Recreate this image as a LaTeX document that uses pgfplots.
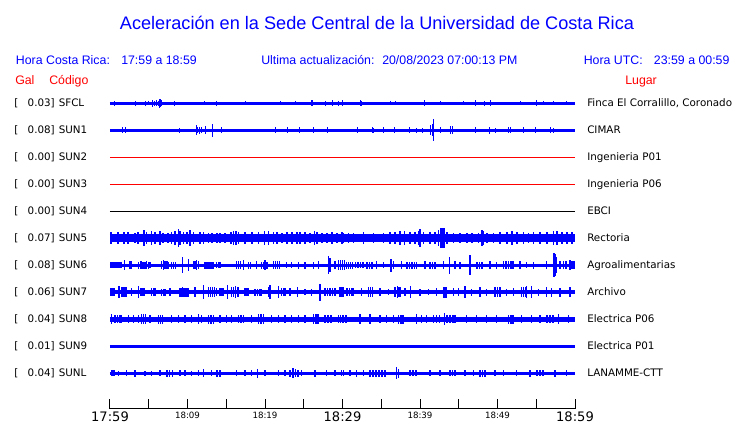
\documentclass[border=0pt]{standalone}
\usepackage{pgfplots}
\pgfplotsset{compat=1.18}
\usepackage{pgfplotstable}
\usepackage{fontspec}
\setmainfont{DejaVu Sans}
\newfontfamily\arial{Liberation Sans}
\definecolor{sblue}{RGB}{0,0,255}
\definecolor{sred}{RGB}{255,0,0}

% spike tables: x position (px), half amplitude (px)
\pgfplotstableread{
x a
115 2.5
136 2.5
146 2.5
148.5 2
152.5 3.5
154.5 2.5
156.5 3
158.5 2.5
160 4.5
161 4
162 3
174.5 2.5
204.5 2
216.5 2.5
245 2
280 2
295 2
311 3
312 3
325 2.5
332.5 3
338.5 2.5
342.5 3
360 3
361 2.5
390 2
395 2
424 3
440 2
463.5 2
475 3
484 2.5
490 3
520 2
536.5 3
543.5 2
553.5 2
566.5 2
}\tSFCL
\pgfplotstableread{
x a
122.5 3
126 3
179 2.5
196 5
197.5 3
199.5 3.5
201 3
205 4
212.5 6.5
221 3
275 3
287.5 3
299.5 3
313.5 3
327.5 3
357.5 3
372.5 3
373.5 2.5
383.5 3
394.5 3
409.5 3
416 2.5
422.5 2.5
430.5 5
432 6
433.5 11
440 3
450 4
452 4
475.5 3
489 3.5
495.5 2.5
508.5 3
510.5 3
523.5 3
535 3
550.5 3
553.5 2.5
}\tSUNa
\pgfplotstableread{
x a
110.5 6
111.7 6
118.3 6
124.3 6
128.3 6
135 5
138.3 6
144.3 8
146.7 6
151.7 7
155 6
160 7
163.3 5
168.3 5
171.7 6
175 7
178.3 9
180 7
183.3 6
186.7 6
190 8
193.3 6
200 6
203.3 6
208.3 5
211.7 5
216.7 5
220 5
225 5
231 6
233.3 7
235.7 7
238.3 6
245 6
251.7 6
258.3 6
264.3 7
268.3 7
273.3 6
276.7 6
281.7 5
286.7 6
291.7 6
296.7 6
300 6
305 6
310 5
314.3 7
316.7 6
321.7 5
326.7 5
331.7 6
336.7 5
341.7 6
343.3 5
348.3 5
353.3 5
363.3 6
373.3 5
383.3 5
390 6
395 6
400 7
404.3 7
410 6
415 6
418.3 7
420 9
423.3 6
430 6
435 6
438.3 8
440.7 10
442.7 10
444.3 10
446.7 6
453.3 5
460 5
466.7 5
471.7 5
478.3 5
481.7 8
483.3 7
486.7 5
493.3 5
500 6
506.7 6
511.7 7
516.7 6
523.3 6
528.3 5
533.3 6
540 6
546.7 6
553.3 7
556.7 7
561.7 6
566.7 6
571.7 6
}\tSUNe
\pgfplotstableread{
x a
110.5 3
112 3
114 3
116 3
118 3
120 3
121.5 3
124.3 5
130 4
131.5 4
138.5 3.5
140.5 3.5
141 4
143 3.5
145 3.5
146.7 4
148.5 3.5
150 3
161.5 4
163.3 5
165 4
167 4
168.5 3.5
171.5 3.5
173.5 3.5
175.5 3.5
182.3 8
188.3 6
193.5 4
195 4
196.7 5
198.5 4
205 3.5
207 3.5
209 3.5
211 3.5
213 3.5
216.5 3
218.5 3
220 3
236.5 4
238.5 4
240.5 4
243.3 5
248.5 3.5
250.5 3.5
256.7 4
261.5 3.5
263.3 3.5
265 5
267 3.5
273.5 4
275.5 4
277.5 4
279.5 4
286.7 3
291.7 3
298.3 3.5
305 3.5
313.3 3.5
318.3 4
328.3 9
330 7
335 4
338.5 5
340.5 5
342.5 5
344.5 5
346.5 3.5
348.5 3.5
350.5 3.5
352.5 3.5
355.5 3
358 3
360.5 3
363 3
367 3.5
369.5 3.5
372 3.5
376.7 4
383.3 3
391 6.5
393.3 4
401.7 4
407 3.5
409.5 3.5
412 3.5
414.5 3.5
416.5 3.5
425 4
430 3.5
432.5 3.5
435 3.5
443.3 4
449.3 8.5
455 4
460 3.5
470 10
477 3.5
479.5 3.5
482 3.5
490 4
496.7 3.5
503.5 4
506 4
508.5 4
511 4
513 4
520 4
526.7 3
533.3 3.5
546.7 4
553.5 12
554.5 12
555.5 11
556.5 8
560 4
563.5 4
566 4
570 5
572 4
574 4
}\tSUNf
\pgfplotstableread{
x a
110.5 4
112 4
114 4
119 6
122 5
124 5
126 5
131.7 4
138.3 6
141 4
143 4
144.5 4
151.5 4
153.5 4
155 4
161.5 3.5
163.5 3.5
165 3.5
170 4
180 4.5
182 4.5
182.3 5
184 4.5
186 4.5
188 4.5
195 5
203.3 7
208.5 5
210.5 5
212.5 5
214.5 5
216.7 4
220 4
222 4
223.5 4
227.3 7
231.5 5
233.5 5
235.7 6
238 5
245 4
247 4
248.5 4
255 3.5
257.5 3.5
260 3.5
261.5 3.5
268.3 5
270 7
278.3 6
281.5 4
283.5 4
285 4
290 4
297.7 5
305 3
311.7 3.5
320 8.5
325 4
327.5 4
330 4
332.5 4
335 4
340 5
342 5
343.5 5
347 4
349.5 4
352 4
353.5 4
361.7 4
368.5 5
370.5 5
372.5 5
380 4
388.3 3
395 5
397.3 6
399 5
400.5 5
405 4
410.7 6
420 3.5
428.3 3
436.7 4
443.5 5.5
445 5.5
446.5 5.5
453.3 4
458.3 4
465 6
471.7 3.5
480 5
486.7 3.5
495 5
497.5 5
500 5
506.7 3.5
513.3 4
521.5 5
523.5 5
525.5 5
526.7 6
531.7 6
538.3 3.5
546.7 5
551.7 4.5
560 4.5
570 5
}\tSUNg
\pgfplotstableread{
x a
111.7 5
115 4
117.5 4
120 4
121.5 4
128.3 4
133.3 4
138.3 4
141.5 5
143.5 5
145.5 5
150 4
158.5 4.5
160.5 4.5
162.5 4.5
171.7 4
178.3 4
185 4
191.7 4
198.3 5
201.7 4
208.5 4.5
211 4.5
213.5 4.5
220 4
226.7 4
231.7 4
238.5 4
241 4
243.5 4
251.7 4
258.5 5
261 5
263.5 5
271.7 4
278.3 4
285 4
291.7 4
298.3 4
305 4
313.5 5
316 5
318 5
325 4
328 4
331 4
338.3 4
340.5 4
343 4
346 4
360 5
370 5
380 4
386.7 4
393.3 4
398.5 4.5
401 4.5
403 4.5
416.7 5
421.7 4
426.7 4
433.5 4
436.5 4
439.5 4
444.3 6
447 4
450 4
453 4
455 4
466.7 4
476.7 4
486.7 4
496.7 4
508.5 4.5
511 4.5
513 4.5
521.7 4
531.7 4
540 4
547 4
550 4
553 4
558.3 5
568.3 4
}\tSUNh
\pgfplotstableread{
x a
112 3
114 3
118.3 2.5
126.7 3
135 3.5
145 2.5
151.7 2.5
160 3
167 3.5
169.5 3.5
172.5 3.5
180 3
185 3
191.7 2.5
198.3 3
203.3 4
211.7 3
217 3.5
220 3.5
236.7 3
245 3
251.7 3
257.7 4.5
265 3
278.3 3
285 3
290 3.5
293 5
295.5 4
298 3.5
301.7 3
315 3.5
326.7 3
335 3
341.7 3
343.3 3
350 3
356.7 3.5
363.3 3
370 3.5
373 3.5
376 3.5
379 3.5
382 3.5
385 3.5
396.7 6
398.3 4.5
410 3
413 3
416 3
430 3
440 3
450 3
452.5 3
455 3
465 3
473.3 3
480 3.5
482.5 3.5
485 3.5
495 3
503.3 3
516.7 3
530 3.5
537 3
540 3
543 3
555 3.5
566.7 3
}\tSUNL

\newcommand{\band}[3]{\addplot[#3, line width=#2] coordinates {(110,-#1) (575,-#1)};}
\newcommand{\spikes}[3]{\addplot[draw=none, error bars/.cd, y dir=both, y explicit,
  error mark=none, error bar style={sblue, line width=#3}] table[x=x, y expr=-#2, y error=a] {#1};}

\begin{document}
\begin{tikzpicture}
\useasboundingbox (0,0) rectangle (555pt,317.25pt);
\begin{axis}[
  at={(82.5pt,10.5pt)}, anchor=south west,
  scale only axis, width=348.75pt, height=239.25pt,
  xmin=110, xmax=575, ymin=-409, ymax=-90,
  clip=false,
  axis x line*=bottom, axis y line=none,
  x axis line style={-, black, line width=0.75pt},
  xtick={110,148.75,187.5,226.25,265,303.75,342.5,381.25,420,458.75,497.5,536.25,575},
  xticklabels={{\fontsize{9.8}{10}\selectfont 17:59},{},{\fontsize{6.5}{7}\selectfont 18:09},{},{\fontsize{6.5}{7}\selectfont 18:19},{},{\fontsize{9.8}{10}\selectfont 18:29},{},{\fontsize{6.5}{7}\selectfont 18:39},{},{\fontsize{6.5}{7}\selectfont 18:49},{},{\fontsize{9.8}{10}\selectfont 18:59}},
  xticklabel style={anchor=north, inner sep=0pt, yshift=-2pt},
  xtick align=inside, major tick length=7.2pt,
  xtick style={black, line width=0.75pt},
  ytick=\empty,
]
% SFCL
\band{103.3}{2.25pt}{sblue}
\spikes{\tSFCL}{103.3}{0.75pt}
% SUN1
\band{130.3}{2.25pt}{sblue}
\spikes{\tSUNa}{130.3}{0.75pt}
% SUN2, SUN3, SUN4
\band{157.3}{0.75pt}{sred}
\band{184.3}{0.75pt}{sred}
\band{211.3}{0.75pt}{black}
% SUN5
\band{238.3}{6pt}{sblue}
\spikes{\tSUNe}{238.3}{1.2pt}
% SUN6
\band{265.3}{2.25pt}{sblue}
\spikes{\tSUNf}{265.3}{1pt}
% SUN7
\band{292.3}{3pt}{sblue}
\spikes{\tSUNg}{292.3}{1.1pt}
% SUN8
\band{319.3}{4pt}{sblue}
\spikes{\tSUNh}{319.3}{1.1pt}
% SUN9
\band{346.3}{2.1pt}{sblue}
% SUNL
\band{373.3}{2.4pt}{sblue}
\spikes{\tSUNL}{373.3}{1pt}
\end{axis}

\begin{scope}[x=0.75pt, y=-0.75pt, yshift=317.25pt]
% title and header
\node[anchor=base, inner sep=0pt, text=sblue, font=\arial\fontsize{13.6}{16}\selectfont] at (377,30) {Aceleración en la Sede Central de la Universidad de Costa Rica};
\begin{scope}[every node/.style={anchor=base west, inner sep=0pt, text=sblue, font=\arial\fontsize{9.26}{11}\selectfont}]
\node at (15.7,65) {Hora Costa Rica:};
\node at (121,65) {17:59 a 18:59};
\node at (261,65) {Ultima actualización:};
\node at (382,65) {20/08/2023 07:00:13 PM};
\node at (583.5,65) {Hora UTC:};
\node at (653.7,65) {23:59 a 00:59};
\end{scope}
\begin{scope}[every node/.style={anchor=base west, inner sep=0pt, text=sred, font=\arial\fontsize{9.26}{11}\selectfont}]
\node at (15,84.5) {Gal};
\node at (49,84.5) {Código};
\node at (625,84.5) {Lugar};
\end{scope}
% station labels
\begin{scope}[every node/.style={inner sep=0pt, text=black, font=\fontsize{7.75}{9}\selectfont}]
\foreach \yy/\val/\code/\place in {103.3/0.03/SFCL/{Finca El Corralillo, Coronado},130.3/0.08/SUN1/CIMAR,157.3/0.00/SUN2/Ingenieria P01,184.3/0.00/SUN3/Ingenieria P06,211.3/0.00/SUN4/EBCI,238.3/0.07/SUN5/Rectoria,265.3/0.08/SUN6/Agroalimentarias,292.3/0.06/SUN7/Archivo,319.3/0.04/SUN8/Electrica P06,346.3/0.01/SUN9/Electrica P01,373.3/0.04/SUNL/LANAMME-CTT}{
  \node[anchor=base west] at (14,\yy+3.7) {[};
  \node[anchor=base east] at (55,\yy+3.7) {\val]};
  \node[anchor=base west] at (58.5,\yy+3.7) {\code};
  \node[anchor=base west] at (587,\yy+3.7) {\place};
}
\end{scope}
\end{scope}
\end{tikzpicture}
\end{document}
